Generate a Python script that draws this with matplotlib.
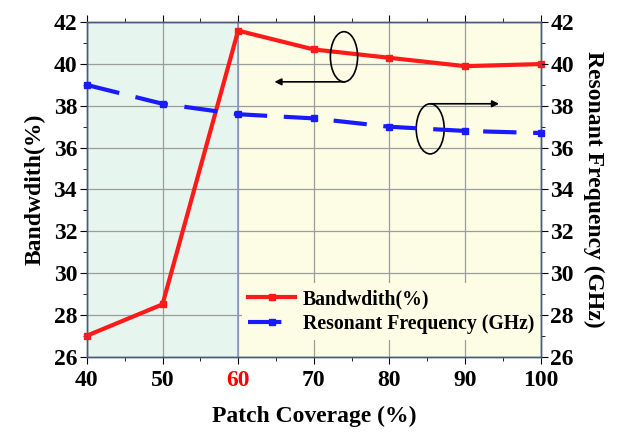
import matplotlib
matplotlib.use('Agg')
import matplotlib.pyplot as plt
from matplotlib.patches import Ellipse
from matplotlib.ticker import MultipleLocator

# Patch coverage sweep
coverage = [40, 50, 60, 70, 80, 90, 100]
bandwidth = [27.0, 28.5, 41.6, 40.7, 40.3, 39.9, 40.0]   # %
res_freq = [39.0, 38.1, 37.6, 37.4, 37.0, 36.8, 36.7]    # GHz

plt.rcParams['font.family'] = ['Liberation Serif', 'DejaVu Serif']
plt.rcParams['font.weight'] = 'bold'

fig = plt.figure(figsize=(6.25, 4.37), dpi=100)
ax = fig.add_axes([0.139, 0.184, 0.726, 0.765])
ax2 = ax.twinx()

# shaded regions below / above 60 %
ax.axvspan(40, 60, color='#e6f5ee', zorder=0, lw=0)
ax.axvspan(60, 100, color='#fdfde6', zorder=0, lw=0)
ax.axvline(60, color='#8a98b8', lw=1.2, zorder=1)

ax.grid(True, color='#9a9e9a', lw=0.9, zorder=1)
ax.set_axisbelow(True)

l1, = ax.plot(coverage, bandwidth, color='#ff1a1a', lw=3, marker='s', ms=5,
              label='Bandwdith(%)', zorder=3, clip_on=False)
l2, = ax2.plot(coverage, res_freq, color='#1a1aff', lw=3, ls=(0, (8, 4)),
               marker='s', ms=5, label='Resonant Frequency (GHz)', zorder=3, clip_on=False)

ax.set_xlim(40, 100)
ax.set_ylim(26, 42)
ax2.set_ylim(26, 42)
ax.xaxis.set_major_locator(MultipleLocator(10))
ax.xaxis.set_minor_locator(MultipleLocator(5))
for a in (ax, ax2):
    a.yaxis.set_major_locator(MultipleLocator(2))
    a.yaxis.set_minor_locator(MultipleLocator(1))

ax.tick_params(axis='x', which='both', direction='out', top=True, labelsize=17, pad=5)
ax.tick_params(axis='y', which='both', direction='out', labelsize=17, pad=2)
ax2.tick_params(axis='y', which='both', direction='out', labelsize=17, pad=2)
for a in (ax, ax2):
    a.tick_params(which='major', length=5)
    a.tick_params(which='minor', length=3)

for lab in ax.get_xticklabels():
    if lab.get_text() == '60':
        lab.set_color('red')

for a in (ax, ax2):
    for s in a.spines.values():
        s.set_color('#4a5a7a')
        s.set_linewidth(1.0)

ax.set_xlabel('Patch Coverage (%)', fontsize=17, fontweight='bold', labelpad=10)
ax.set_ylabel('Bandwdith(%)', fontsize=17, fontweight='bold', labelpad=6)
ax2.set_ylabel('Resonant Frequency (GHz)', fontsize=17, fontweight='bold',
               rotation=270, labelpad=22)

# annotations: ellipses with arrows pointing to each axis
ax.add_patch(Ellipse((74.0, 40.35), 3.6, 2.4, fill=False, ec='black', lw=1.2, zorder=4))
ax.annotate('', xy=(64.8, 39.15), xytext=(74.1, 39.15),
            arrowprops=dict(arrowstyle='-|>', color='black', lw=1.2,
                            shrinkA=0, shrinkB=0, mutation_scale=10), zorder=4)
ax.add_patch(Ellipse((85.4, 36.9), 3.7, 2.4, fill=False, ec='black', lw=1.2, zorder=4))
ax.annotate('', xy=(94.5, 38.1), xytext=(85.4, 38.1),
            arrowprops=dict(arrowstyle='-|>', color='black', lw=1.2,
                            shrinkA=0, shrinkB=0, mutation_scale=10), zorder=4)

leg = ax2.legend([l1, l2], [l1.get_label(), l2.get_label()], loc='lower left',
                 bbox_to_anchor=(0.32, 0.02), frameon=True, fontsize=14.2,
                 handlelength=2.4, borderpad=0.3, labelspacing=0.25, handletextpad=0.4)
leg.get_frame().set_facecolor('#fdfde6')
leg.get_frame().set_edgecolor('none')
leg.get_frame().set_alpha(1)

plt.savefig('out.png', dpi=100)
